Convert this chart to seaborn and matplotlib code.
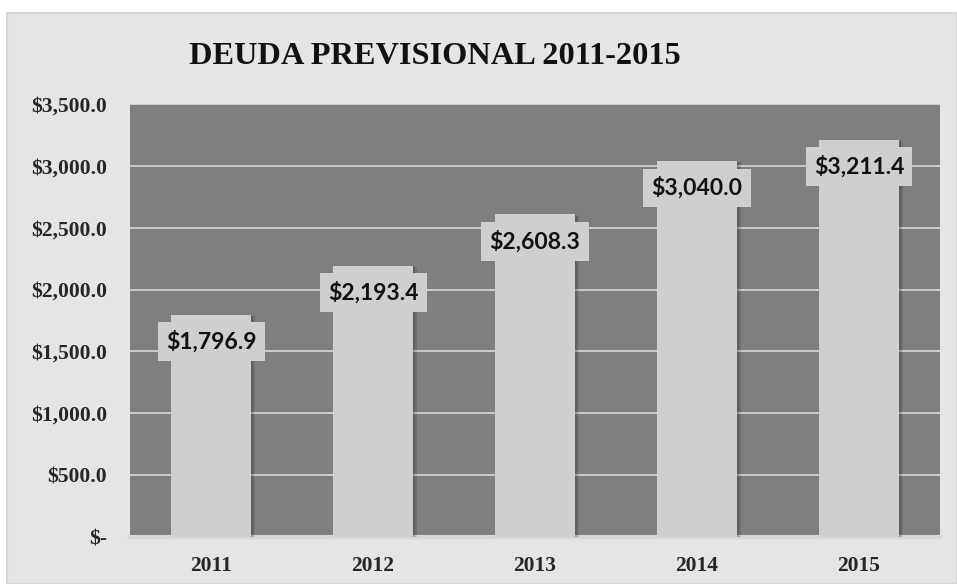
import matplotlib
matplotlib.use("Agg")
import matplotlib.pyplot as plt
import matplotlib.patheffects as pe
from matplotlib.patches import Rectangle
from matplotlib.ticker import FuncFormatter, MultipleLocator
import seaborn as sns
import pandas as pd

years = ["2011", "2012", "2013", "2014", "2015"]
deuda = [1796.9, 2193.4, 2608.3, 3040.0, 3211.4]

df = pd.DataFrame({"anio": years, "deuda": deuda})

sns.set_style("white")
plt.rcParams["font.family"] = ["Liberation Serif", "DejaVu Serif"]

fig = plt.figure(figsize=(9.57, 5.84), dpi=100, facecolor="white")
# chart area panel
fig.patches.append(Rectangle((7 / 957, 0), 1 - 7 / 957, 1 - 13 / 584,
                             transform=fig.transFigure, facecolor="#e5e5e5",
                             edgecolor="#d6d6d6", linewidth=1.5, zorder=-5))

ax = fig.add_axes([130 / 957, 47 / 584, 810 / 957, 433 / 584])
ax.set_zorder(2)
ax.set_facecolor("#7f7f7f")

sns.barplot(data=df, x="anio", y="deuda", color="#d0cece", width=0.49,
            saturation=1, ax=ax, zorder=3)
for bar in ax.patches:
    bar.set_edgecolor("none")
    bar.set_path_effects([
        pe.SimplePatchShadow(offset=(3, -1), shadow_rgbFace="black", alpha=0.12),
        pe.SimplePatchShadow(offset=(1.5, -0.5), shadow_rgbFace="black", alpha=0.15),
        pe.Normal()])

ax.set_ylim(0, 3500)
ax.set_xlim(-0.5, len(years) - 0.5)
ax.yaxis.set_major_locator(MultipleLocator(500))
ax.grid(axis="y", color="#d9d9d9", linewidth=1.2, zorder=1)
ax.set_axisbelow(True)


def money(v, _pos):
    if v == 0:
        return "$-"
    return f"${v:,.1f}"


ax.yaxis.set_major_formatter(FuncFormatter(money))
ax.tick_params(axis="y", length=0, pad=16.5, labelsize=15.5)
ax.tick_params(axis="x", length=0, pad=13.5, labelsize=15.5)
for lbl in ax.get_xticklabels() + ax.get_yticklabels():
    lbl.set_fontweight("bold")
ax.set_xlabel("")
ax.set_ylabel("")
for side in ["top", "right", "left"]:
    ax.spines[side].set_visible(False)
ax.spines["bottom"].set_color("#d8d8d8")
ax.spines["bottom"].set_linewidth(3)

for i, v in enumerate(deuda):
    ax.annotate(f"${v:,.1f}", xy=(i, v), xytext=(0, -19.5), textcoords="offset points",
                ha="center", va="center", fontsize=16.5, fontweight="bold",
                family=["Lato", "DejaVu Sans"], color="#111111", zorder=6,
                bbox=dict(boxstyle="square,pad=0.36", facecolor="#d0cece",
                          edgecolor="none"))

fig.text(0.4545, 0.9025, "DEUDA PREVISIONAL 2011-2015", ha="center", va="center",
         fontsize=23.3, fontweight="bold", color="#111111")

fig.savefig("out.png", dpi=100, facecolor="white")
